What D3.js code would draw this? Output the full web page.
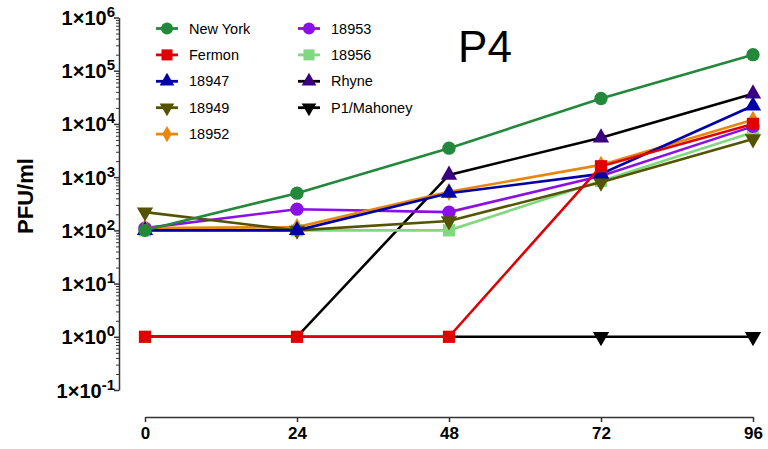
<!DOCTYPE html>
<html>
<head>
<meta charset="utf-8">
<script src="https://cdn.jsdelivr.net/npm/d3@7"></script>
<style>
  body { margin: 0; background: #fff; }
  svg { font-family: "Liberation Sans", Arial, sans-serif; }
</style>
</head>
<body>
<script>
// chart data
var hours = [0, 24, 48, 72, 96];
var seriesNames = ["New York", "Fermon", "18947", "18949", "18952", "18953", "18956", "Rhyne", "P1/Mahoney"];
var newYork   = [100, 500, 3500, 30000, 200000];
var fermon    = [1, 1, 1, 1600, 10000];
var s18947    = [100, 100, 500, 1150, 22000];
var s18949    = [220, 100, 150, 800, 5200];
var s18952    = [110, 115, 530, 1700, 12000];
var s18953    = [110, 250, 220, 1050, 9000];
var s18956    = [100, 100, 100, 850, 7000];
var rhyne     = [1, 1, 1100, 5500, 37000];
var mahoney   = [1, 1, 1, 1, 1];
// points whose marker does not show in the picture (hidden under Fermon)
var rhyneMarked   = [false, false, true, true, true];
var mahoneyMarked = [false, false, false, true, true];
var yTickValues = [1e-1, 1e0, 1e1, 1e2, 1e3, 1e4, 1e5, 1e6];
var yTickExponents = ["-1", "0", "1", "2", "3", "4", "5", "6"];

var seriesValues = [newYork, fermon, s18947, s18949, s18952, s18953, s18956, rhyne, mahoney];
var seriesMarked = [null, null, null, null, null, null, null, rhyneMarked, mahoneyMarked];
var lineColors   = ["#23883b", "#e00000", "#0000a8", "#545400", "#e8870c", "#8a10e6", "#80d880", "#000000", "#000000"];
var markColors   = ["#23883b", "#e00000", "#0000a8", "#545400", "#e8870c", "#8a10e6", "#80d880", "#3b0080", "#000000"];
var markShapes   = ["circle", "square", "up", "down", "diamond", "circle", "square", "up", "down"];

var svgWidth = 768;
var svgHeight = 449;

var svg = d3.select("body")
  .append("svg")
  .attr("width", svgWidth)
  .attr("height", svgHeight);

var xScale = d3.scaleLinear().domain([0, 96]).range([145, 753]);
var yScale = d3.scaleLog().domain([1e-1, 1e6]).range([390, 17.5]);

function symbolPath(shape) {
  if (shape == "circle") return d3.symbol(d3.symbolCircle, 140)();
  if (shape == "square") return d3.symbol(d3.symbolSquare, 150)();
  if (shape == "diamond") return d3.symbol(d3.symbolDiamond, 95)();
  return d3.symbol(d3.symbolTriangle, 115)();
}
function symbolRotate(shape) {
  return shape == "down" ? " rotate(180)" : "";
}

// y axis (log) with minor ticks
var minorTicks = [];
for (var e = -1; e < 6; e++) {
  for (var m = 2; m < 10; m++) minorTicks.push(m * Math.pow(10, e));
}
svg.append("g")
  .attr("transform", "translate(119,0)")
  .call(d3.axisLeft(yScale).tickValues(minorTicks).tickSize(3).tickFormat(""))
  .call(g => g.select(".domain").remove())
  .selectAll("line").attr("stroke", "#333").attr("stroke-width", 1);

var yAxis = svg.append("g")
  .attr("transform", "translate(119,0)")
  .call(d3.axisLeft(yScale).tickValues(yTickValues).tickSize(5).tickSizeOuter(0).tickFormat(""));
yAxis.select(".domain").attr("stroke", "#333").attr("stroke-width", 1.5);
yAxis.selectAll(".tick line").attr("stroke", "#333").attr("stroke-width", 1.5);
yAxis.selectAll(".tick").each(function(d, i) {
  var t = d3.select(this).append("text")
    .attr("x", -4)
    .attr("y", 7)
    .attr("text-anchor", "end")
    .attr("fill", "#000")
    .attr("font-weight", "bold")
    .attr("font-size", "20px");
  t.append("tspan").text("1×10");
  t.append("tspan").attr("font-size", "15px").attr("dy", -8).text(yTickExponents[i]);
});

// x axis
var xAxis = svg.append("g")
  .attr("transform", "translate(0,417)")
  .call(d3.axisBottom(xScale).tickValues(hours).tickSize(5).tickSizeOuter(0));
xAxis.select(".domain").attr("stroke", "#333").attr("stroke-width", 1.5);
xAxis.selectAll(".tick line").attr("stroke", "#333").attr("stroke-width", 1.5);
xAxis.selectAll(".tick text")
  .attr("font-family", "'Liberation Sans', Arial, sans-serif")
  .attr("font-weight", "bold")
  .attr("font-size", "17px")
  .attr("fill", "#000")
  .attr("dy", "0.85em");

// y axis label
svg.append("text")
  .attr("transform", "translate(33,196) rotate(-90)")
  .attr("text-anchor", "middle")
  .attr("font-weight", "bold")
  .attr("font-size", "22px")
  .text("PFU/ml");

// title
svg.append("text")
  .attr("x", 485)
  .attr("y", 62)
  .attr("text-anchor", "middle")
  .attr("font-size", "44px")
  .text("P4");

// lines and markers, drawn last series first so New York is on top
var line = d3.line()
  .x(function(d, i) { return xScale(hours[i]); })
  .y(function(d) { return yScale(d); });

for (var s = seriesValues.length - 1; s >= 0; s--) {
  var g = svg.append("g");
  var marked = seriesMarked[s];
  g.append("path")
    .datum(seriesValues[s])
    .attr("d", line)
    .attr("fill", "none")
    .attr("stroke", lineColors[s])
    .attr("stroke-width", 2.6);
  g.selectAll("path.mark")
    .data(seriesValues[s].map(function(v, i) { return {v: v, i: i}; })
      .filter(function(p) { return !marked || marked[p.i]; }))
    .enter()
    .append("path")
    .attr("class", "mark")
    .attr("d", symbolPath(markShapes[s]))
    .attr("transform", function(p) {
      return "translate(" + xScale(hours[p.i]) + "," + yScale(p.v) + ")" + symbolRotate(markShapes[s]);
    })
    .attr("fill", markColors[s]);
}

// legend
var legend = svg.append("g");
seriesNames.forEach(function(name, i) {
  var col = i < 5 ? 0 : 1;
  var row = i < 5 ? i : i - 5;
  var lx = col == 0 ? 156 : 298;
  var ly = 28.5 + row * 26.4;
  var item = legend.append("g").attr("transform", "translate(" + lx + "," + ly + ")");
  item.append("line")
    .attr("x1", 0).attr("x2", 22)
    .attr("stroke", lineColors[i])
    .attr("stroke-width", 2.8);
  item.append("path")
    .attr("d", symbolPath(markShapes[i]))
    .attr("transform", "translate(11,0) scale(0.9)" + symbolRotate(markShapes[i]))
    .attr("fill", markColors[i]);
  item.append("text")
    .attr("x", 33)
    .attr("y", 5)
    .attr("font-size", "14.5px")
    .text(name);
});
</script>
</body>
</html>
